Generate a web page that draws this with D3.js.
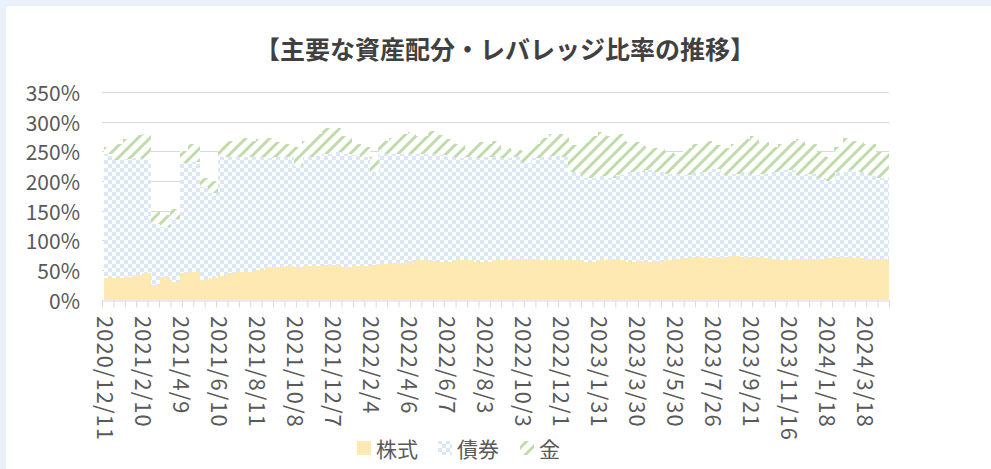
<!DOCTYPE html>
<html>
<head>
<meta charset="utf-8">
<script src="https://cdn.jsdelivr.net/npm/d3@7"></script>
<style>
  body { margin: 0; background: #eaf1fa; }
  svg { display: block; }
</style>
</head>
<body>
<svg></svg>
<script>
// canvas and plot box
const width = 991, height = 469;
const plot = { left: 102, right: 889, top: 92, bottom: 299.5 };

// sample dates (about every two weeks)
const dates = [
  "2020/12/11","2020/12/25","2021/1/12","2021/1/26",
  "2021/2/10","2021/2/24","2021/3/10","2021/3/25",
  "2021/4/9","2021/4/23","2021/5/12","2021/5/26",
  "2021/6/10","2021/6/24","2021/7/9","2021/7/27",
  "2021/8/11","2021/8/25","2021/9/8","2021/9/24",
  "2021/10/8","2021/10/22","2021/11/8","2021/11/22",
  "2021/12/7","2021/12/21","2022/1/7","2022/1/21",
  "2022/2/4","2022/2/18","2022/3/7","2022/3/22",
  "2022/4/6","2022/4/20","2022/5/9","2022/5/24",
  "2022/6/7","2022/6/21","2022/7/5","2022/7/20",
  "2022/8/3","2022/8/17","2022/8/31","2022/9/15",
  "2022/10/3","2022/10/17","2022/10/31","2022/11/15",
  "2022/12/1","2022/12/15","2023/1/4","2023/1/18",
  "2023/1/31","2023/2/14","2023/2/28","2023/3/15",
  "2023/3/30","2023/4/13","2023/4/27","2023/5/16",
  "2023/5/30","2023/6/13","2023/6/27","2023/7/11",
  "2023/7/26","2023/8/9","2023/8/24","2023/9/7",
  "2023/9/21","2023/10/5","2023/10/19","2023/11/2",
  "2023/11/16","2023/11/30","2023/12/14","2024/1/4",
  "2024/1/18","2024/2/1","2024/2/15","2024/3/1",
  "2024/3/18","2024/4/1"
];
const endDate = "2024/4/16";

// 株式 (%)
const stock = [
  36,37,38,42, 45,25,38,30, 45,46,33,36, 40,44,46,47,
  50,54,55,56, 55,56,57,58, 58,55,56,57, 58,60,62,62,
  65,66,65,64, 64,66,66,63, 64,67,67,68, 68,68,67,66,
  66,66,64,63, 66,69,67,64, 65,64,65,66, 68,70,71,70,
  72,72,73,72, 72,70,68,67, 67,68,68,69, 70,71,71,70,
  69,68
];
// 債券 (%)
const bond = [
  209,199,199,196, 191,103,84,105, 185,186,157,144, 200,196,194,193,
  190,184,185,184, 170,184,185,187, 190,190,187,183, 157,185,183,183,
  180,180,180,179, 176,172,174,175, 176,175,171,172, 162,170,173,176,
  174,149,141,142, 142,136,143,151, 150,154,150,146, 144,140,144,145,
  148,138,139,143, 138,142,147,151, 151,142,144,136, 130,144,147,145,
  141,137
];
// 金 (%)
const gold = [
  13,26,33,40, 44,20,20,17, 20,30,15,20, 22,28,32,28,
  30,34,25,22, 33,28,38,45, 42,30,19,18, 25,23,27,35,
  37,29,40,35, 30,24,15,27, 22,26,17,12, 20,24,32,38,
  40,45,60,70, 74,70,70,50, 50,40,40,36, 33,45,47,53,
  40,45,50,55, 65,53,43,44, 50,60,50,43, 40,43,54,53,
  52,43
];

const labelDates = [
  "2020/12/11","2021/2/10","2021/4/9","2021/6/10","2021/8/11","2021/10/8",
  "2021/12/7","2022/2/4","2022/4/6","2022/6/7","2022/8/3","2022/10/3",
  "2022/12/1","2023/1/31","2023/3/30","2023/5/30","2023/7/26","2023/9/21",
  "2023/11/16","2024/1/18","2024/3/18"
];
const yTicks = [0, 50, 100, 150, 200, 250, 300, 350];
const seriesNames = ["株式", "債券", "金"];
const seriesKeys = ["stock", "bond", "gold"];

const parse = d3.timeParse("%Y/%m/%d");

const svg = d3.select("svg")
    .attr("width", width)
    .attr("height", height);

// white panel
svg.append("rect")
    .attr("x", 6).attr("y", 6)
    .attr("width", width).attr("height", height)
    .attr("fill", "#ffffff");

// fill patterns
const defs = svg.append("defs");
const checker = defs.append("pattern")
    .attr("id", "checker")
    .attr("patternUnits", "userSpaceOnUse")
    .attr("width", 8).attr("height", 8);
checker.append("rect").attr("width", 8).attr("height", 8).attr("fill", "#ffffff");
checker.append("rect").attr("width", 4).attr("height", 4).attr("fill", "#dae8f6");
checker.append("rect").attr("x", 4).attr("y", 4).attr("width", 4).attr("height", 4).attr("fill", "#dae8f6");

const hatch = defs.append("pattern")
    .attr("id", "hatch")
    .attr("patternUnits", "userSpaceOnUse")
    .attr("width", 12).attr("height", 12);
hatch.append("rect").attr("width", 12).attr("height", 12).attr("fill", "#ffffff");
hatch.append("path")
    .attr("d", "M-3,3 L3,-3 M0,12 L12,0 M9,15 L15,9")
    .attr("stroke", "#c0dcaa")
    .attr("stroke-width", 3);

const fills = { stock: "#fee9b2", bond: "url(#checker)", gold: "url(#hatch)" };

// x: label dates are evenly spaced like an Excel category axis
const step = 38;
const x0 = 103.5;
const xDomain = labelDates.concat([endDate]).map(parse);
const xRange = labelDates.map((d, i) => x0 + i * step).concat([plot.right]);
const xScale = d3.scaleTime().domain(xDomain).range(xRange);

const yScale = d3.scaleLinear().domain([0, 350]).range([plot.bottom, plot.top]);

// gridlines
svg.append("g")
  .selectAll("line")
  .data(yTicks.slice(1))
  .join("line")
    .attr("x1", plot.left).attr("x2", plot.right)
    .attr("y1", d => Math.round(yScale(d)) + 0.5)
    .attr("y2", d => Math.round(yScale(d)) + 0.5)
    .attr("stroke", "#d9d9d9")
    .attr("stroke-width", 1);

// stacked data
const rows = dates.map((d, i) => ({
  date: parse(d),
  next: parse(i + 1 < dates.length ? dates[i + 1] : endDate),
  stock: stock[i], bond: bond[i], gold: gold[i]
}));
const stacked = d3.stack().keys(seriesKeys)(rows);

svg.append("g")
  .selectAll("g")
  .data(stacked)
  .join("g")
    .attr("fill", s => fills[s.key])
  .selectAll("rect")
  .data(s => s)
  .join("rect")
    .attr("x", d => xScale(d.data.date))
    .attr("width", d => xScale(d.data.next) - xScale(d.data.date) + 0.4)
    .attr("y", d => yScale(d[1]))
    .attr("height", d => yScale(d[0]) - yScale(d[1]))
    .attr("shape-rendering", "crispEdges");

// x axis line and tick marks (every 12 trading days)
const nCats = 828;
const catScale = d3.scaleLinear().domain([0, nCats]).range([plot.left, plot.right]);
const xAxis = svg.append("g")
    .attr("transform", `translate(0,${Math.round(plot.bottom) + 0.5})`)
    .call(d3.axisBottom(catScale)
      .tickValues(d3.range(0, nCats + 1, 12))
      .tickSize(7)
      .tickFormat(""));
xAxis.select(".domain").attr("stroke", "#d9d9d9");
xAxis.selectAll(".tick line").attr("stroke", "#d9d9d9");

// x labels, rotated
svg.append("g")
  .selectAll("text")
  .data(labelDates)
  .join("text")
    .attr("transform", d => `translate(${xScale(parse(d)) + 3},${Math.round(plot.bottom) + 16}) rotate(90)`)
    .attr("dominant-baseline", "central")
    .attr("font-family", "'Noto Sans CJK JP', 'Noto Sans', sans-serif")
    .attr("font-size", 22)
    .attr("letter-spacing", 1)
    .attr("fill", "#595959")
    .text(d => d);

// y labels
svg.append("g")
  .selectAll("text")
  .data(yTicks)
  .join("text")
    .attr("x", 80)
    .attr("y", d => yScale(d))
    .attr("text-anchor", "end")
    .attr("dominant-baseline", "central")
    .attr("font-family", "'Noto Sans CJK JP', 'Noto Sans', sans-serif")
    .attr("font-size", 21)
    .attr("fill", "#595959")
    .text(d => d + "%");

// title
svg.append("text")
    .attr("x", 505)
    .attr("y", 48)
    .attr("text-anchor", "middle")
    .attr("dominant-baseline", "central")
    .attr("font-family", "'Noto Sans CJK JP', sans-serif")
    .attr("font-weight", "bold")
    .attr("font-size", 25)
    .attr("fill", "#404040")
    .text("【主要な資産配分・レバレッジ比率の推移】");

// legend
const legendX = [357, 438, 520];
const legend = svg.append("g")
  .selectAll("g")
  .data(seriesKeys)
  .join("g")
    .attr("transform", (d, i) => `translate(${legendX[i]},448)`);
legend.append("rect")
    .attr("x", 0).attr("y", -7)
    .attr("width", 14).attr("height", 14)
    .attr("fill", d => fills[d]);
legend.append("text")
    .attr("x", 19)
    .attr("y", 0)
    .attr("dominant-baseline", "central")
    .attr("font-family", "'Noto Sans CJK JP', sans-serif")
    .attr("font-size", 21)
    .attr("fill", "#595959")
    .text((d, i) => seriesNames[i]);
</script>
</body>
</html>
